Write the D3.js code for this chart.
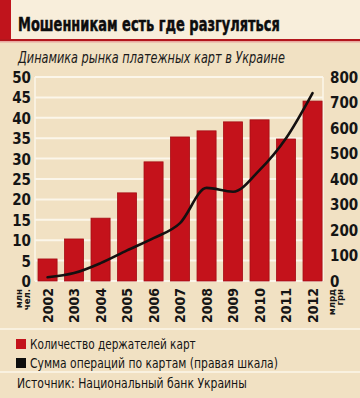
<!DOCTYPE html>
<html><head><meta charset="utf-8">
<script src="https://cdn.jsdelivr.net/npm/d3@7"></script>
<style>
html,body{margin:0;padding:0;background:#f1e1c3;}
svg{display:block;}
text{font-family:"Liberation Sans Narrow","DejaVu Sans Condensed","Liberation Sans",sans-serif;}
</style></head>
<body>
<svg id="c" width="360" height="398"></svg>
<script>
const years = ["2002","2003","2004","2005","2006","2007","2008","2009","2010","2011","2012"];
const holders = [5.4, 10.3, 15.4, 21.6, 29.2, 35.3, 36.8, 39.0, 39.5, 34.8, 44.1];
const volume = [15, 31, 70, 120, 168, 227, 365, 350, 435, 560, 737];
const leftTicks = [0,5,10,15,20,25,30,35,40,45,50];
const rightTicks = [0,100,200,300,400,500,600,700,800];
const title = "Мошенникам есть где разгуляться";
const subtitle = "Динамика рынка платежных карт в Украине";
const legendLabels = ["Количество держателей карт", "Сумма операций по картам (правая шкала)"];
const source = "Источник: Национальный банк Украины";

const svg = d3.select("#c");
const W = 360, H = 398;
svg.append("rect").attr("width",W).attr("height",H).attr("fill","#f1e1c3");
// header
svg.append("rect").attr("width",W).attr("height",40).attr("fill","#f8eedb");
svg.append("rect").attr("x",0).attr("y",0).attr("width",11).attr("height",40).attr("fill","#c0141c");
svg.append("rect").attr("x",0).attr("y",39).attr("width",W).attr("height",2).attr("fill","#b3161c");
svg.append("rect").attr("x",0).attr("y",41).attr("width",W).attr("height",1.5).attr("fill","#e8a8a0");

function squeeze(sel, x0, y0, width){
  const w = sel.node().getComputedTextLength();
  sel.attr("x",0).attr("y",0).attr("transform",`translate(${x0},${y0}) scale(${width/w},1)`);
}
const tt = svg.append("text").text(title)
  .attr("font-size",20).attr("font-weight",900).attr("fill","#0d0d0d")
  .attr("stroke","#0d0d0d").attr("stroke-width",0.5);
squeeze(tt, 18, 31, 262);
const st = svg.append("text").text(subtitle)
  .attr("font-size",15.5).attr("font-style","italic").attr("fill","#1a1a1a");
squeeze(st, 18, 63, 267);

const x = d3.scaleBand().domain(years).range([34.3,325.8]).paddingInner(0.28).paddingOuter(0.14);
const yL = d3.scaleLinear().domain([0,50]).range([281,77]);
const yR = d3.scaleLinear().domain([0,800]).range([281,77]);

// grid
const g = svg.append("g");
g.selectAll("line.h").data(leftTicks).join("line")
  .attr("x1",35).attr("x2",323).attr("y1",d=>yL(d)).attr("y2",d=>yL(d))
  .attr("stroke","#fbf6ea").attr("stroke-width",2);
[35,323].forEach(xx=>g.append("line").attr("x1",xx).attr("x2",xx).attr("y1",yL(50)).attr("y2",yL(0))
  .attr("stroke","#fbf6ea").attr("stroke-width",1.5));

// bars
svg.append("g").selectAll("rect").data(years).join("rect")
  .attr("x",d=>x(d)).attr("width",x.bandwidth())
  .attr("y",(d,i)=>yL(holders[i])).attr("height",(d,i)=>yL(0)-yL(holders[i]))
  .attr("fill","#c4121b").attr("stroke","#a50d14").attr("stroke-width",0.8);

// line
const line = d3.line().x((d,i)=>x(years[i])+x.bandwidth()/2).y(d=>yR(d)).curve(d3.curveMonotoneX);
svg.append("path").datum(volume).attr("d",line).attr("fill","none")
  .attr("stroke","#141010").attr("stroke-width",2.6).attr("stroke-linecap","round");

// axes
const axL = d3.axisLeft(yL).tickValues(leftTicks).tickSize(0).tickPadding(0);
const gl = svg.append("g").attr("transform","translate(31,0)").call(axL);
gl.select(".domain").remove();
gl.selectAll("text").attr("font-size",15).attr("font-weight","bold").attr("fill","#151515").attr("dy","0.36em");

const axR = d3.axisRight(yR).tickValues(rightTicks).tickSize(0).tickPadding(0);
const gr = svg.append("g").attr("transform","translate(330,0)").call(axR);
gr.select(".domain").remove();
gr.selectAll("text").attr("font-size",15).attr("font-weight","bold").attr("fill","#151515").attr("dy","0.36em");

const axB = d3.axisBottom(x).tickSize(0).tickPadding(0);
const gb = svg.append("g").attr("transform","translate(0,288)").call(axB);
gb.select(".domain").remove();
gb.selectAll("text").attr("font-size",14).attr("font-weight","bold").attr("fill","#151515")
  .attr("text-anchor","end").attr("dy",null).attr("y",0).attr("x",0)
  .attr("transform","rotate(-90) translate(0,5)");

// unit labels
function unit(xx, lines){
  const t = svg.append("text").attr("transform",`translate(${xx},289) rotate(-90)`)
    .attr("text-anchor","end").attr("font-size",9.5).attr("font-weight","bold").attr("fill","#151515");
  lines.forEach((l,i)=>t.append("tspan").attr("x",0).attr("dy",i===0?0:8).text(l));
}
unit(22,["млн","чел."]);
unit(335,["млрд","грн"]);

// separators
svg.append("line").attr("x1",0).attr("x2",W).attr("y1",329).attr("y2",329).attr("stroke","#fbf6ea").attr("stroke-width",1.5);
svg.append("line").attr("x1",0).attr("x2",W).attr("y1",372).attr("y2",372).attr("stroke","#fbf6ea").attr("stroke-width",1.5);

// legend
const legColors = ["#c4121b","#0d0d0d"];
const legWidths = [166, 248];
legendLabels.forEach((l,i)=>{
  const cy = 344 + i*19;
  svg.append("rect").attr("x",16).attr("y",cy-5).attr("width",10).attr("height",10).attr("fill",legColors[i]);
  const t = svg.append("text").text(l).attr("font-size",14).attr("fill","#141414");
  squeeze(t, 30, cy+5, legWidths[i]);
});
const so = svg.append("text").text(source).attr("font-size",14).attr("fill","#141414");
squeeze(so, 17, 388, 230);
</script>
</body></html>
